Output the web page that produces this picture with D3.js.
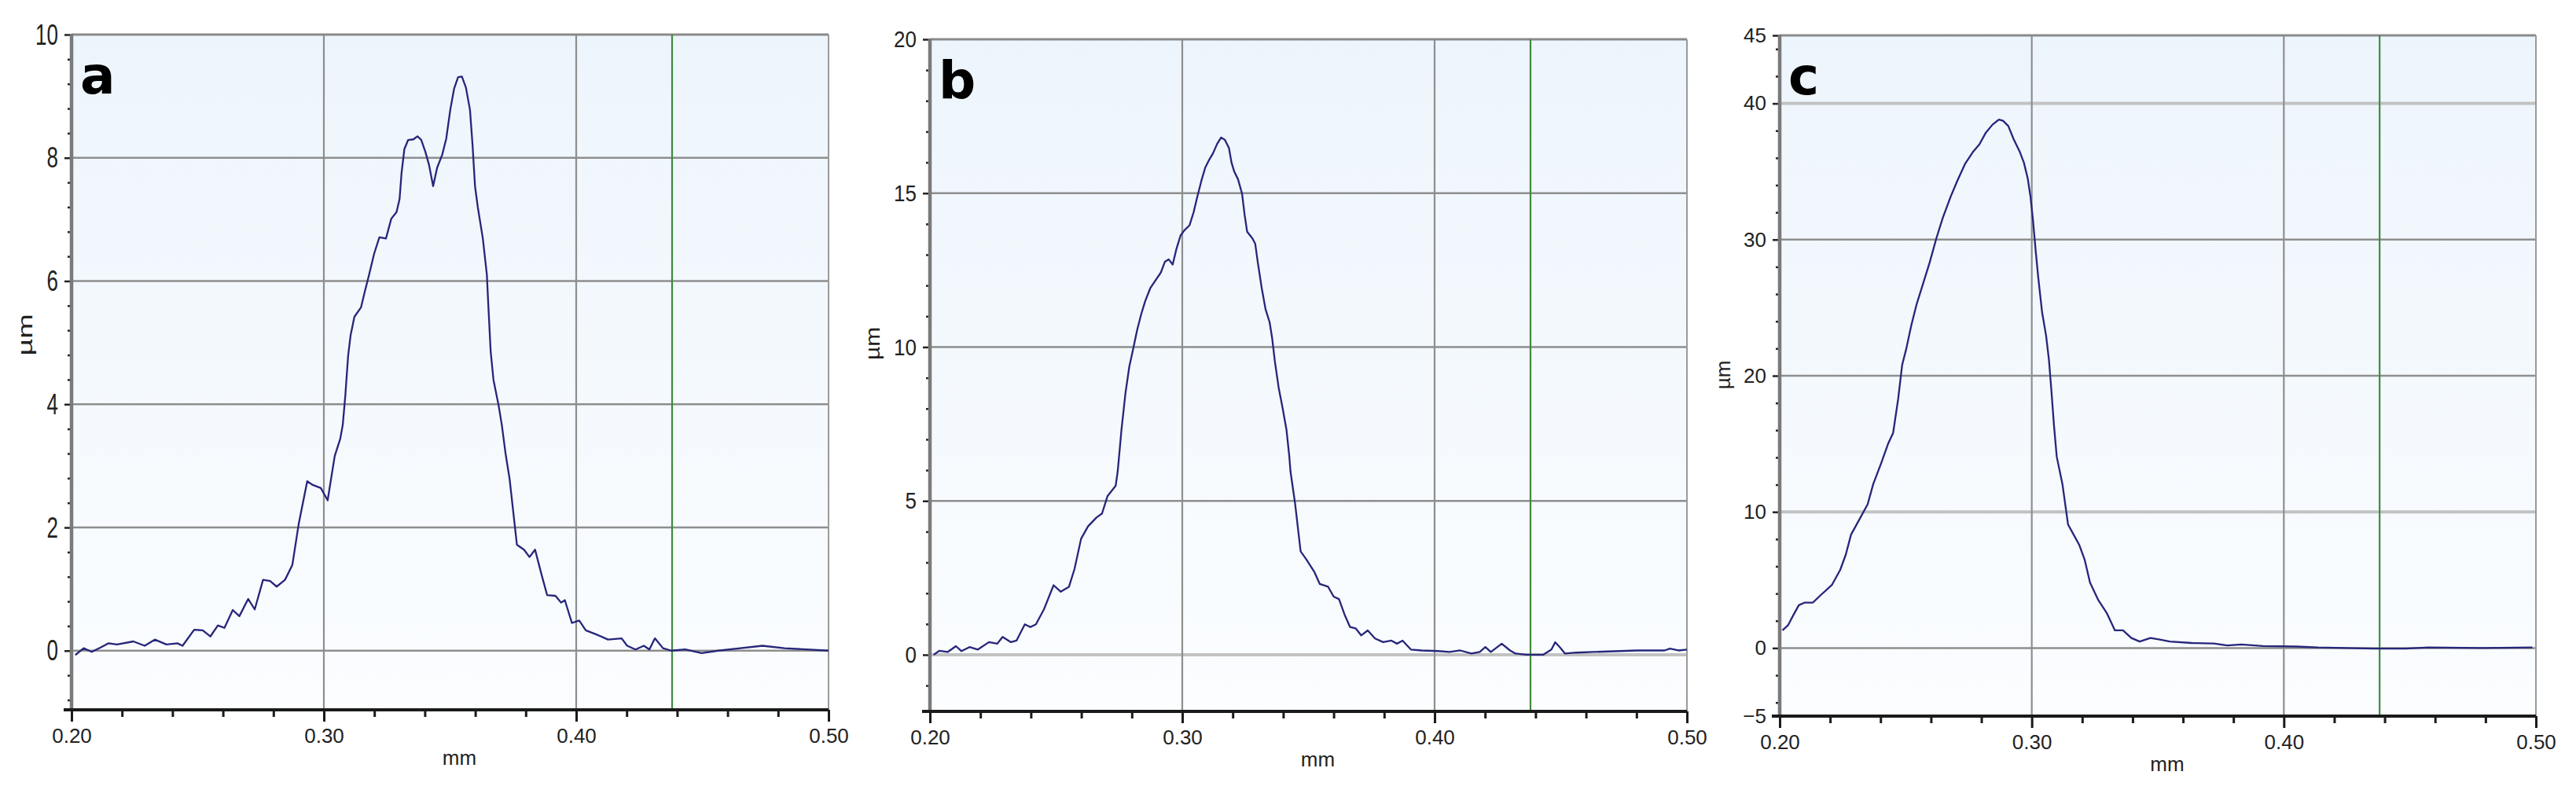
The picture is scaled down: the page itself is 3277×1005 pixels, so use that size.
<!DOCTYPE html>
<html>
<head>
<meta charset="utf-8">
<script src="https://cdn.jsdelivr.net/npm/d3@7"></script>
<style>
  html, body { margin: 0; padding: 0; background: #fff; }
  svg { display: block; font-family: "Liberation Sans", Arial, sans-serif; }
</style>
</head>
<body>
<svg id="chart" width="3277" height="1005"></svg>
<script>
// profile data, x in mm, height in µm
var profileA = [
  [0.2015,-0.07],[0.2048,0.04],[0.208,-0.02],[0.2115,0.05],[0.2147,0.12],[0.218,0.10],[0.2245,0.15],
  [0.229,0.08],[0.233,0.18],[0.2376,0.10],[0.242,0.12],[0.244,0.08],[0.2486,0.34],[0.252,0.33],
  [0.255,0.23],[0.258,0.41],[0.2606,0.37],[0.2639,0.66],[0.2665,0.56],[0.270,0.84],[0.2726,0.67],
  [0.2759,1.15],[0.2787,1.13],[0.2813,1.04],[0.2846,1.15],[0.2875,1.39],[0.290,2.05],[0.2934,2.75],
  [0.2956,2.69],[0.2988,2.64],[0.3015,2.44],[0.3043,3.16],[0.3065,3.44],[0.3075,3.67],[0.3085,4.14],
  [0.3096,4.78],[0.3106,5.12],[0.3121,5.42],[0.3147,5.57],[0.3163,5.84],[0.3179,6.10],[0.3199,6.44],
  [0.3220,6.71],[0.3246,6.69],[0.3267,7.01],[0.3288,7.12],[0.3300,7.33],[0.3308,7.76],[0.3319,8.14],
  [0.3334,8.29],[0.3355,8.30],[0.3371,8.35],[0.3386,8.29],[0.3402,8.10],[0.3417,7.88],[0.3433,7.54],
  [0.3449,7.84],[0.3469,8.05],[0.3485,8.31],[0.3501,8.78],[0.3516,9.12],[0.3532,9.31],[0.3547,9.32],
  [0.3563,9.14],[0.3579,8.78],[0.3589,8.22],[0.3599,7.54],[0.3610,7.20],[0.3630,6.69],[0.3646,6.10],
  [0.3651,5.67],[0.3661,4.86],[0.3672,4.40],[0.3693,3.97],[0.3705,3.67],[0.3720,3.20],[0.3736,2.79],
  [0.3765,1.72],[0.3793,1.64],[0.3815,1.52],[0.3837,1.64],[0.3863,1.23],[0.3885,0.90],[0.3918,0.89],
  [0.394,0.78],[0.3955,0.82],[0.3983,0.45],[0.4012,0.49],[0.4038,0.33],[0.4082,0.26],[0.4126,0.18],
  [0.418,0.20],[0.4202,0.08],[0.4235,0.02],[0.4268,0.08],[0.429,0.02],[0.4312,0.20],[0.4344,0.04],
  [0.4377,0.0],[0.4432,0.02],[0.4497,-0.04],[0.4563,0.0],[0.465,0.04],[0.4738,0.08],[0.4825,0.04],
  [0.4913,0.02],[0.50,0.0]
];

var profileB = [
  [0.2015,0.0],[0.2037,0.13],[0.207,0.09],[0.2103,0.28],[0.2125,0.12],[0.2157,0.25],[0.219,0.17],
  [0.2234,0.41],[0.2267,0.36],[0.2288,0.58],[0.2321,0.41],[0.2343,0.46],[0.2376,0.99],[0.2398,0.9],
  [0.242,0.99],[0.2452,1.48],[0.249,2.26],[0.2518,2.05],[0.2551,2.21],[0.2573,2.79],[0.2599,3.77],
  [0.2627,4.18],[0.266,4.46],[0.2682,4.59],[0.2704,5.16],[0.2736,5.49],[0.2744,5.95],[0.2759,7.31],
  [0.2775,8.51],[0.2790,9.36],[0.2806,9.96],[0.2821,10.55],[0.2837,11.06],[0.2853,11.49],[0.2873,11.91],
  [0.2894,12.17],[0.2915,12.42],[0.2931,12.77],[0.2946,12.85],[0.2962,12.68],[0.2977,13.19],[0.2993,13.62],
  [0.3008,13.79],[0.3029,13.96],[0.3045,14.38],[0.3060,14.90],[0.3076,15.41],[0.3091,15.83],[0.3107,16.09],
  [0.3122,16.30],[0.3138,16.60],[0.3154,16.81],[0.3169,16.73],[0.3185,16.47],[0.3195,16.00],[0.3206,15.70],
  [0.3221,15.45],[0.3237,14.98],[0.3247,14.30],[0.3257,13.75],[0.3278,13.53],[0.3289,13.36],[0.3299,12.77],
  [0.3315,11.91],[0.3330,11.23],[0.3346,10.81],[0.3356,10.30],[0.3367,9.53],[0.3382,8.68],[0.3398,8.00],
  [0.3413,7.31],[0.3424,6.46],[0.3429,5.95],[0.3447,4.92],[0.3469,3.36],[0.349,3.12],[0.3523,2.70],
  [0.3545,2.30],[0.3578,2.21],[0.36,1.89],[0.3621,1.81],[0.3643,1.31],[0.3665,0.90],[0.3687,0.86],
  [0.3709,0.63],[0.3735,0.79],[0.3764,0.53],[0.3796,0.41],[0.3829,0.46],[0.3851,0.36],[0.3873,0.46],
  [0.3906,0.17],[0.3949,0.14],[0.4015,0.12],[0.4059,0.09],[0.4102,0.14],[0.4146,0.04],[0.4179,0.09],
  [0.4201,0.25],[0.4223,0.09],[0.4266,0.36],[0.4299,0.14],[0.4321,0.04],[0.4365,0.0],[0.443,0.0],
  [0.4463,0.17],[0.4478,0.41],[0.4496,0.25],[0.4517,0.04],[0.4561,0.07],[0.4627,0.09],[0.4802,0.14],
  [0.4911,0.14],[0.4933,0.2],[0.4966,0.14],[0.50,0.17]
];

var profileC = [
  [0.2011,1.30],[0.2033,1.67],[0.2054,2.41],[0.2076,3.15],[0.2098,3.33],[0.2131,3.33],[0.2163,3.89],
  [0.2207,4.63],[0.2240,5.74],[0.2262,6.85],[0.2283,8.33],[0.2316,9.44],[0.2349,10.56],[0.2371,12.04],
  [0.2403,13.6],[0.2430,15.0],[0.2450,15.80],[0.2470,18.30],[0.2486,20.81],[0.2502,21.97],[0.2522,23.70],
  [0.2543,25.24],[0.2569,26.78],[0.2595,28.32],[0.2621,30.06],[0.2647,31.60],[0.2678,33.14],[0.2704,34.29],
  [0.2735,35.55],[0.2766,36.42],[0.2792,36.99],[0.2818,37.86],[0.2844,38.44],[0.2870,38.82],[0.2886,38.73],
  [0.2907,38.34],[0.2928,37.38],[0.2953,36.42],[0.2969,35.64],[0.2984,34.49],[0.2995,33.14],[0.3005,31.40],
  [0.3016,29.09],[0.3026,27.17],[0.3041,24.66],[0.3057,22.92],[0.3068,21.19],[0.3078,18.88],[0.3088,16.38],
  [0.3099,14.06],[0.3122,12.0],[0.3144,9.07],[0.3166,8.33],[0.3188,7.59],[0.321,6.48],[0.3231,4.81],
  [0.3264,3.52],[0.3297,2.59],[0.333,1.30],[0.3362,1.30],[0.3395,0.74],[0.3428,0.48],[0.3471,0.74],
  [0.3504,0.63],[0.3548,0.48],[0.3635,0.37],[0.3722,0.33],[0.3776,0.19],[0.3831,0.26],[0.3918,0.15],
  [0.4049,0.11],[0.4136,0.04],[0.4245,0.0],[0.4354,-0.04],[0.4485,-0.04],[0.4572,0.04],[0.479,0.0],
  [0.4986,0.04]
];

var xTicks = [0.20, 0.30, 0.40, 0.50];
var xGrid = [0.30, 0.40];
var markerX = 0.438;

var yTicksA = [0, 2, 4, 6, 8, 10];
var yTicksB = [0, 5, 10, 15, 20];
var yTicksC = [-5, 0, 10, 20, 30, 40, 45];
var yGridA = [0, 2, 4, 6, 8];
var yGridB = [0, 5, 10, 15];
var yGridC = [0, 10, 20, 30, 40];

// layout of the three panels (pixels)
var panels = [
  { letter: 'a', data: profileA, yMin: -0.96, yMax: 10, yTicks: yTicksA, yGrid: yGridA, soft: [],
    minor: 0.4, left: 91, right: 1054, top: 44, bottom: 903, stretch: 1.45, ylab: [32, 426] },
  { letter: 'b', data: profileB, yMin: -1.84, yMax: 20, yTicks: yTicksB, yGrid: yGridB, soft: [0],
    minor: 1, left: 1183, right: 2146, top: 50, bottom: 905, stretch: 1.15, ylab: [1110, 437] },
  { letter: 'c', data: profileC, yMin: -5, yMax: 45, yTicks: yTicksC, yGrid: yGridC, soft: [10, 40],
    minor: 2, left: 2264, right: 3226, top: 45, bottom: 911, stretch: 1.0, ylab: [2192, 477] }
];

var svg = d3.select('#chart');
svg.append('rect').attr('width', 3277).attr('height', 1005).attr('fill', '#fff');

var grad = svg.append('defs').append('linearGradient')
  .attr('id', 'plotbg').attr('x1', 0).attr('y1', 0).attr('x2', 0).attr('y2', 1);
grad.append('stop').attr('offset', 0).attr('stop-color', '#edf5fc');
grad.append('stop').attr('offset', 1).attr('stop-color', '#fbfdff');

function drawPanel(p) {
  var g = svg.append('g').attr('class', 'panel panel-' + p.letter);
  var x = d3.scaleLinear().domain([0.2, 0.5]).range([p.left, p.right]);
  var y = d3.scaleLinear().domain([p.yMin, p.yMax]).range([p.bottom, p.top]);

  g.append('rect')
    .attr('x', p.left).attr('y', p.top)
    .attr('width', p.right - p.left).attr('height', p.bottom - p.top)
    .attr('fill', 'url(#plotbg)');

  // grid
  g.selectAll('line.hgrid').data(p.yGrid).enter().append('line')
    .attr('class', 'hgrid')
    .attr('x1', p.left).attr('x2', p.right)
    .attr('y1', function(d) { return y(d); }).attr('y2', function(d) { return y(d); })
    .attr('stroke', function(d) { return p.soft.indexOf(d) >= 0 ? '#c2c2c2' : '#8e8e8e'; })
    .attr('stroke-width', function(d) { return p.soft.indexOf(d) >= 0 ? 4 : 2.5; });

  g.selectAll('line.vgrid').data(xGrid).enter().append('line')
    .attr('class', 'vgrid')
    .attr('x1', function(d) { return x(d); }).attr('x2', function(d) { return x(d); })
    .attr('y1', p.top).attr('y2', p.bottom)
    .attr('stroke', '#8e8e8e').attr('stroke-width', 2.2);

  // top and right frame
  g.append('line').attr('x1', p.left).attr('x2', p.right).attr('y1', p.top).attr('y2', p.top)
    .attr('stroke', '#8a8a8a').attr('stroke-width', 3);
  g.append('line').attr('x1', p.right).attr('x2', p.right).attr('y1', p.top).attr('y2', p.bottom)
    .attr('stroke', '#9a9a9a').attr('stroke-width', 2);

  // green cursor line
  g.append('line')
    .attr('x1', x(markerX)).attr('x2', x(markerX))
    .attr('y1', p.top).attr('y2', p.bottom)
    .attr('stroke', '#3f8a3f').attr('stroke-width', 2.2);

  // profile
  var line = d3.line().x(function(d) { return x(d[0]); }).y(function(d) { return y(d[1]); });
  g.append('path').datum(p.data)
    .attr('d', line)
    .attr('fill', 'none')
    .attr('stroke', '#26267a')
    .attr('stroke-width', 2.3)
    .attr('stroke-linejoin', 'round');

  // left axis
  var minorY = d3.range(Math.ceil(p.yMin / p.minor) * p.minor, p.yMax + 1e-9, p.minor)
    .filter(function(v) { return p.yTicks.indexOf(+v.toFixed(4)) < 0; });
  var yMinorAxis = g.append('g').attr('transform', 'translate(' + p.left + ',0)')
    .call(d3.axisLeft(y).tickValues(minorY).tickSize(5).tickFormat(''));
  var yAxis = g.append('g').attr('transform', 'translate(' + p.left + ',0)')
    .call(d3.axisLeft(y).tickValues(p.yTicks).tickSize(9).tickPadding(8).tickFormat(d3.format('d')));
  [yMinorAxis, yAxis].forEach(function(a) {
    a.select('.domain').remove();
    a.selectAll('line').attr('stroke', '#222').attr('stroke-width', 2.5);
  });
  yAxis.selectAll('text')
    .attr('fill', '#222').attr('font-size', 26)
    .attr('transform', 'scale(1,' + p.stretch + ')');
  g.append('line').attr('x1', p.left).attr('x2', p.left).attr('y1', p.top - 1).attr('y2', p.bottom)
    .attr('stroke', '#7a7a7a').attr('stroke-width', 4.5);

  // bottom axis
  var minorX = d3.range(0.22, 0.5, 0.02).filter(function(v) {
    return xTicks.indexOf(+v.toFixed(2)) < 0;
  });
  var xMinorAxis = g.append('g').attr('transform', 'translate(0,' + p.bottom + ')')
    .call(d3.axisBottom(x).tickValues(minorX).tickSize(9).tickFormat(''));
  var xAxis = g.append('g').attr('transform', 'translate(0,' + p.bottom + ')')
    .call(d3.axisBottom(x).tickValues(xTicks).tickSize(15).tickFormat(d3.format('.2f')));
  [xMinorAxis, xAxis].forEach(function(a) {
    a.select('.domain').remove();
    a.selectAll('line').attr('stroke', '#1a1a1a').attr('stroke-width', 3);
  });
  xAxis.selectAll('text').attr('fill', '#222').attr('font-size', 26).attr('y', 24);
  g.append('line').attr('x1', p.left - 10).attr('x2', p.right).attr('y1', p.bottom).attr('y2', p.bottom)
    .attr('stroke', '#1a1a1a').attr('stroke-width', 4);

  // axis titles
  g.append('text')
    .attr('x', (p.left + p.right) / 2 + 12).attr('y', p.bottom + 70)
    .attr('text-anchor', 'middle').attr('font-size', 26).attr('fill', '#222')
    .text('mm');
  g.append('text')
    .attr('transform', 'translate(' + p.ylab[0] + ',' + p.ylab[1] + ') scale(1,' + p.stretch + ') rotate(-90)')
    .attr('text-anchor', 'middle').attr('dy', '0.35em')
    .attr('font-size', 26).attr('fill', '#222')
    .text('µm');

  // panel letter
  g.append('text')
    .attr('x', p.left + 11).attr('y', p.top + 75)
    .attr('font-family', '"DejaVu Sans", sans-serif')
    .attr('font-weight', 'bold').attr('font-size', 66).attr('fill', '#000')
    .text(p.letter);
}

panels.forEach(drawPanel);
</script>
</body>
</html>
